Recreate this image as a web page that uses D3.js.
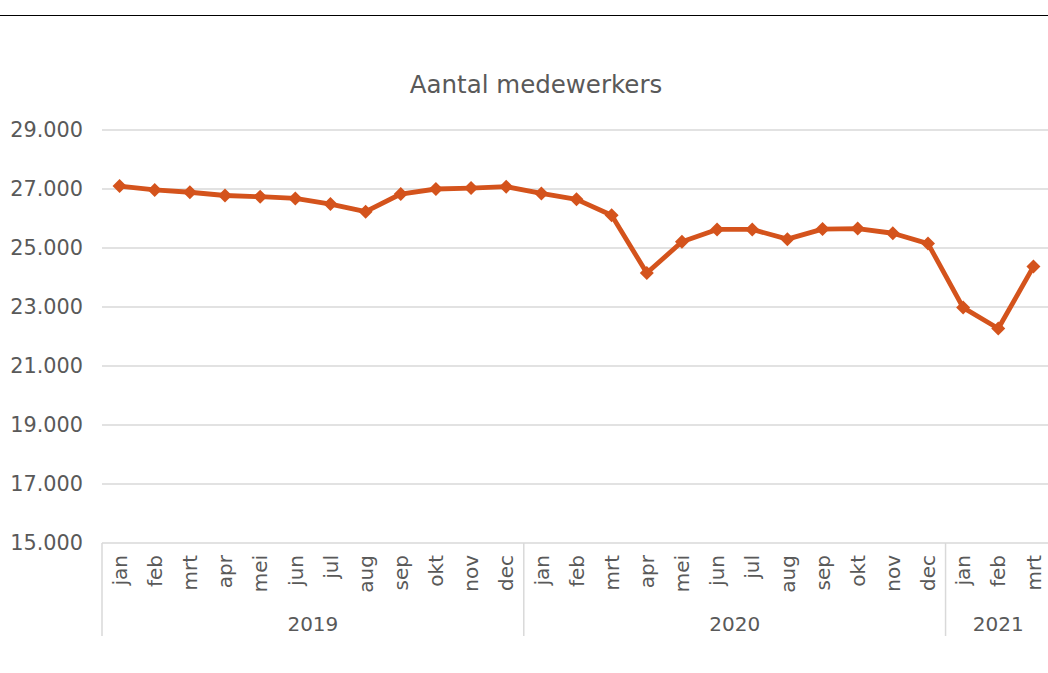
<!DOCTYPE html>
<html>
<head>
<meta charset="utf-8">
<script src="https://cdn.jsdelivr.net/npm/d3@7"></script>
<style>
  html, body { margin: 0; padding: 0; background: #fff; }
  svg { display: block; }
  text { font-family: "DejaVu Sans", Verdana, sans-serif; fill: #595959; }
</style>
</head>
<body>
<svg id="chart" width="1048" height="673"></svg>
<script>
const title = "Aantal medewerkers";
const years = ["2019", "2020", "2021"];
const months = ["jan","feb","mrt","apr","mei","jun","jul","aug","sep","okt","nov","dec",
                "jan","feb","mrt","apr","mei","jun","jul","aug","sep","okt","nov","dec",
                "jan","feb","mrt"];
const monthYear = [0,0,0,0,0,0,0,0,0,0,0,0, 1,1,1,1,1,1,1,1,1,1,1,1, 2,2,2];
const values = [27100, 26970, 26890, 26780, 26740, 26680, 26490, 26230, 26830, 27000, 27030, 27080,
                26850, 26650, 26110, 24150, 25210, 25630, 25630, 25300, 25640, 25660, 25500, 25150,
                22980, 22270, 24370];
const yTicks = [15000, 17000, 19000, 21000, 23000, 25000, 27000, 29000];

(function () {
const svg = d3.select("#chart");
const W = 1048, H = 673;
const mLeft = 102, mRight = 1051, mTop = 130, mBottom = 543;

// top rule
svg.append("line").attr("x1", 0).attr("x2", W).attr("y1", 15.5).attr("y2", 15.5)
  .attr("stroke", "#000").attr("stroke-width", 1);

const keys = months.map((m, i) => i);
const x = d3.scaleBand().domain(keys).range([mLeft, mRight]).padding(0);
const y = d3.scaleLinear().domain([15000, 29000]).range([mBottom, mTop]);

// gridlines
svg.append("g").selectAll("line").data(yTicks.filter(t => t > 15000)).join("line")
  .attr("x1", mLeft).attr("x2", W)
  .attr("y1", d => y(d)).attr("y2", d => y(d))
  .attr("stroke", "#d9d9d9").attr("stroke-width", 1.5);

// y labels
svg.append("g").selectAll("text").data(yTicks).join("text")
  .attr("x", 83).attr("y", d => y(d)).attr("dy", "0.36em")
  .attr("text-anchor", "end").attr("font-size", 20.8)
  .text(d => d3.format(",")(d).replace(/,/g, "."));

// axis line
svg.append("line").attr("x1", mLeft).attr("x2", W).attr("y1", mBottom).attr("y2", mBottom)
  .attr("stroke", "#d9d9d9").attr("stroke-width", 1.5);

// year separators
const yearBounds = [];
years.forEach((yr, yi) => {
  const idx = keys.filter(k => monthYear[k] === yi);
  yearBounds.push({ yr, x0: x(idx[0]), x1: x(idx[idx.length - 1]) + x.bandwidth() });
});
const sepXs = [yearBounds[0].x0, ...yearBounds.map(b => b.x1)];
svg.append("g").selectAll("line").data(sepXs).join("line")
  .attr("x1", d => d).attr("x2", d => d).attr("y1", mBottom).attr("y2", 636)
  .attr("stroke", "#d9d9d9").attr("stroke-width", 1.5);

// month labels
svg.append("g").selectAll("text").data(keys).join("text")
  .attr("transform", d => `translate(${x(d) + x.bandwidth() / 2},555) rotate(-90)`)
  .attr("dy", "0.36em").attr("text-anchor", "end").attr("font-size", 20)
  .text(d => months[d]);

// year labels
svg.append("g").selectAll("text").data(yearBounds).join("text")
  .attr("x", d => (d.x0 + d.x1) / 2)
  .attr("y", 631).attr("text-anchor", "middle").attr("font-size", 20)
  .text(d => d.yr);

// title
svg.append("text").attr("x", 536).attr("y", 93).attr("text-anchor", "middle")
  .attr("font-size", 24.5).text(title);

// line
const cx = d => x(d) + x.bandwidth() / 2;
const line = d3.line().x(d => cx(d)).y(d => y(values[d]));
svg.append("path").datum(keys).attr("d", line)
  .attr("fill", "none").attr("stroke", "#d4531c").attr("stroke-width", 4.8)
  .attr("stroke-linejoin", "round");

// markers
const sym = d3.symbol().type(d3.symbolDiamond2).size(125);
svg.append("g").selectAll("path").data(keys).join("path")
  .attr("transform", d => `translate(${cx(d)},${y(values[d])})`)
  .attr("d", sym).attr("fill", "#d4531c");
})();
</script>
</body>
</html>
